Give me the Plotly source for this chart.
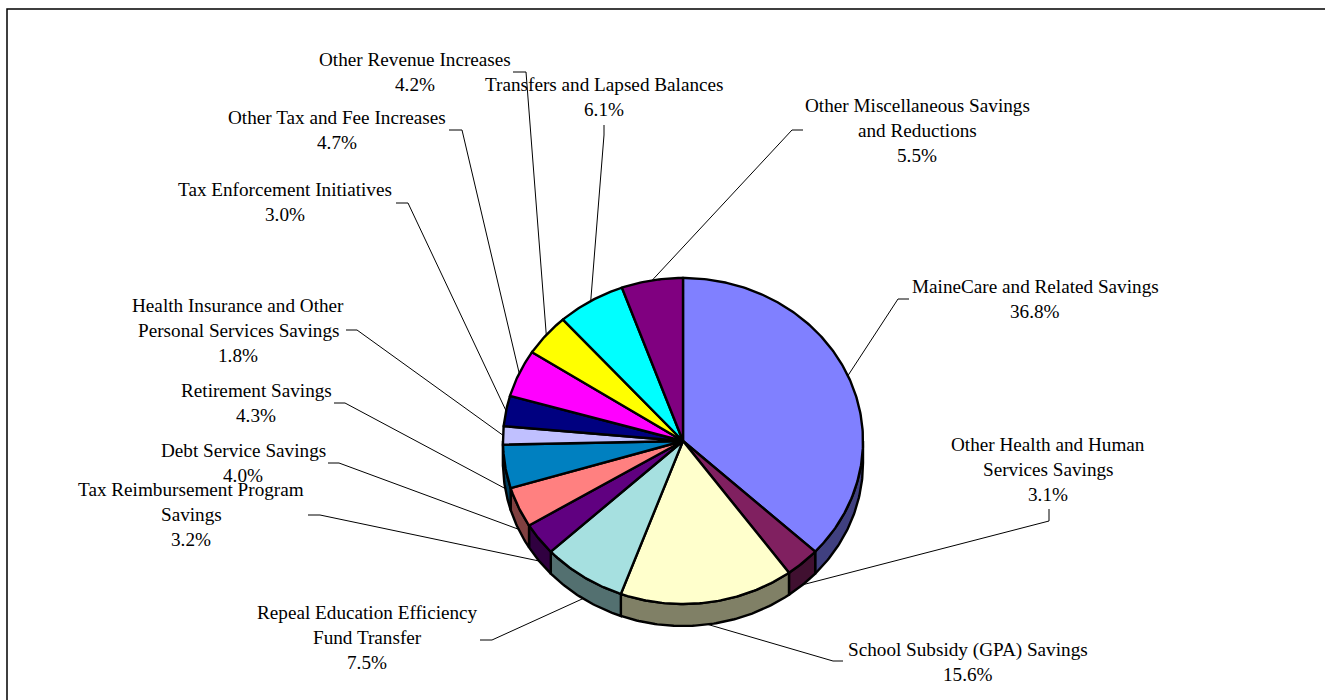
import math
import plotly.graph_objects as go

# Budget components, clockwise from twelve o'clock
categories = [
    ["MaineCare and Related Savings"],
    ["Other Health and Human", "Services Savings"],
    ["School Subsidy (GPA) Savings"],
    ["Repeal Education Efficiency", "Fund Transfer"],
    ["Tax Reimbursement Program", "Savings"],
    ["Debt Service Savings"],
    ["Retirement Savings"],
    ["Health Insurance and Other", "Personal Services Savings"],
    ["Tax Enforcement Initiatives"],
    ["Other Tax and Fee Increases"],
    ["Other Revenue Increases"],
    ["Transfers and Lapsed Balances"],
    ["Other Miscellaneous Savings", "and Reductions"],
]
shares = [36.8, 3.1, 15.6, 7.5, 3.2, 4.0, 4.3, 1.8, 3.0, 4.7, 4.2, 6.1, 5.5]
top_colors = ["#8080FF", "#802060", "#FFFFCC", "#A6E0E0", "#600080", "#FF8080", "#0080C0",
              "#C0C0FF", "#000080", "#FF00FF", "#FFFF00", "#00FFFF", "#800080"]
side_colors = ["#404080", "#401030", "#808066", "#537070", "#300040", "#804040", "#004060",
               "#606080", "#000040", "#800080", "#808000", "#008080", "#400040"]

# Label anchors: centre x and the y of the first text line
label_anchor = [(1035, 286.5), (1048, 444.5), (968, 649.5), (367, 612.5), (191, 489.5), (243, 450.5), (256, 390.5),
                (238, 305.5), (285, 189.5), (337, 117.5), (415, 59.5), (604, 84.5), (917, 105.5)]
# Leader elbows: the bend, then the end next to the label
leader_bend = [
    [(898, 299), (909, 299)], [(1049, 521), (1049, 509)], [(833, 661), (843, 661)],
    [(492, 640), (480, 640)], [(320, 515), (308, 515)], [(339, 463), (328, 463)],
    [(345, 403), (334, 403)], [(357, 330), (346, 330)], [(408, 203), (396, 203)],
    [(462, 130), (449, 130)], [(526, 72), (513, 72)], [(604, 135), (604, 125)],
    [(792, 130), (803, 130)],
]

CX, CY, RX, RY, DEPTH = 683, 441, 180, 163, 22
FONT = dict(family="Liberation Serif", size=19.2, color="#000000")


def rim(t_deg, drop=0.0):
    t = math.radians(t_deg)
    return CX + RX * math.sin(t), CY - RY * math.cos(t) + drop


def arc(a, b, drop=0.0):
    n = max(2, int(abs(b - a) / 0.75) + 1)
    return [rim(a + (b - a) * i / (n - 1), drop) for i in range(n)]


fig = go.Figure()

# Outer frame: only its left and top edges fall inside the page
fig.add_trace(go.Scatter(x=[7, 7, 1325], y=[700, 9, 9], mode="lines",
                         line=dict(color="#000000", width=1.5), hoverinfo="skip"))

total = sum(shares)
edges = [0.0]
for s in shares:
    edges.append(edges[-1] + s / total * 360)
spans = list(zip(edges[:-1], edges[1:]))

# Leader lines from the middle of each slice's rim out to its label
for (a, b), bend in zip(spans, leader_bend):
    mid = (a + b) / 2
    start = rim(mid, DEPTH if 90 < mid < 270 else 0)
    pts = [start] + bend
    fig.add_trace(go.Scatter(x=[p[0] for p in pts], y=[p[1] for p in pts], mode="lines",
                             line=dict(color="#000000", width=1), hoverinfo="skip"))

# Visible wall of the disc, on the front half only
for (a, b), col, cat in zip(spans, side_colors, categories):
    lo, hi = max(a, 90), min(b, 270)
    if hi <= lo:
        continue
    pts = arc(lo, hi) + arc(hi, lo, DEPTH)
    pts.append(pts[0])
    fig.add_trace(go.Scatter(x=[p[0] for p in pts], y=[p[1] for p in pts], mode="lines", fill="toself",
                             fillcolor=col, line=dict(color="#000000", width=2.4), hoverinfo="skip"))

# Top face of the disc
for (a, b), col, cat, v in zip(spans, top_colors, categories, shares):
    pts = [(CX, CY)] + arc(a, b) + [(CX, CY)]
    fig.add_trace(go.Scatter(x=[p[0] for p in pts], y=[p[1] for p in pts], mode="lines", fill="toself",
                             fillcolor=col, line=dict(color="#000000", width=2.4),
                             name=" ".join(cat), text=f"{v:.1f}%", hoverinfo="name+text"))

# Labels, set line by line to hold the 25 px leading
annotations = []
for cat, v, (lx, ly) in zip(categories, shares, label_anchor):
    for i, line in enumerate(cat + [f"{v:.1f}%"]):
        annotations.append(dict(x=lx, y=ly + 25 * i, text=line, showarrow=False, xref="x", yref="y",
                                xanchor="center", yanchor="middle", font=FONT))

fig.update_layout(
    width=1325, height=700, autosize=False, showlegend=False,
    margin=dict(l=0, r=0, t=0, b=0), paper_bgcolor="#FFFFFF", plot_bgcolor="#FFFFFF",
    xaxis=dict(range=[0, 1325], visible=False, fixedrange=True),
    yaxis=dict(range=[700, 0], visible=False, fixedrange=True),
    annotations=annotations,
)

fig.write_html("out.html", config={"displayModeBar": False})
